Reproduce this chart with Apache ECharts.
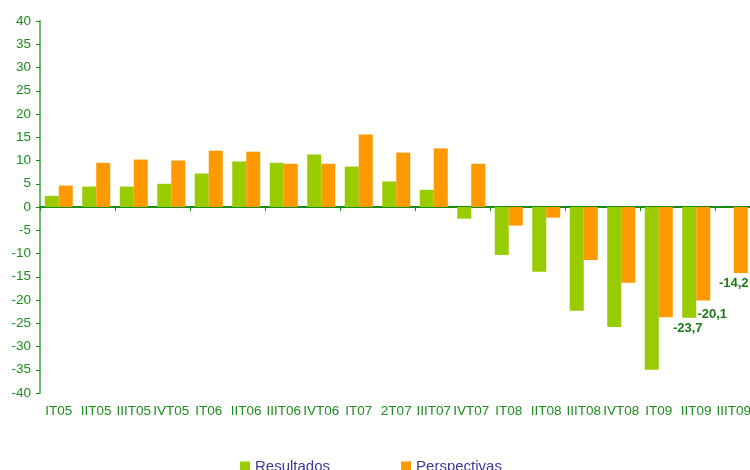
<!DOCTYPE html>
<html>
<head>
<meta charset="utf-8">
<script src="https://cdn.jsdelivr.net/npm/echarts@6/dist/echarts.min.js"></script>
<style>html,body{margin:0;padding:0;background:#fff}#c{width:750px;height:470px}</style>
</head>
<body>
<div id="c"></div>
<script>
var categories = ["IT05","IIT05","IIIT05","IVT05","IT06","IIT06","IIIT06","IVT06","IT07","2T07","IIIT07","IVT07","IT08","IIT08","IIIT08","IVT08","IT09","IIT09","IIIT09"];
var resultados = [2.4,4.4,4.4,5.0,7.2,9.8,9.5,11.3,8.7,5.5,3.7,-2.5,-10.3,-13.9,-22.3,-25.8,-35.0,-23.8,null];
var perspectivas = [4.6,9.5,10.2,10.0,12.1,11.9,9.3,9.3,15.6,11.7,12.6,9.3,-4.0,-2.3,-11.4,-16.3,-23.7,-20.1,-14.2];
var labelledIdx = [16,17,18];
var labelOffsets = [[22,0],[9,2],[-7,-1]];
var yTicks = {min:-40, max:40, interval:5};

var green = '#99cc00', orange = '#ff9900', txt = '#1e8c1e';

var perspData = perspectivas.map(function(v,i){
  var k = labelledIdx.indexOf(i);
  if (k < 0) return v;
  return {value:v, label:{show:true, position:'bottom', distance:5, offset:labelOffsets[k],
    formatter:function(p){return String(p.value).replace('.',',');},
    fontFamily:'Liberation Sans', fontWeight:'bold', fontSize:13, color:'#1a7a1a'}};
});

var chart = echarts.init(document.getElementById('c'), null, {renderer:'canvas'});
chart.setOption({
  animation:false,
  grid:{left:40, top:21, width:712.5, height:372, outerBoundsMode:'none', containLabel:false},
  legend:{
    data:['Resultados','Perspectivas'], left:235, top:454, itemWidth:10, itemHeight:10, itemGap:71,
    icon:'rect', textStyle:{fontFamily:'Liberation Sans', fontSize:15, color:'#3a3a9e'}
  },
  xAxis:[{
    type:'category', data:categories, position:'bottom',
    axisLine:{onZero:true, lineStyle:{color:'#178a17', width:2}},
    axisTick:{show:true, length:4, alignWithLabel:false, lineStyle:{color:'#178a17', width:1}},
    axisLabel:{show:false}, splitLine:{show:false}
  },{
    type:'category', data:categories, position:'bottom',
    axisLine:{show:false, onZero:false}, axisTick:{show:false},
    axisLabel:{show:true, interval:0, margin:11, fontFamily:'Liberation Sans', fontSize:13.5, color:txt},
    splitLine:{show:false}
  }],
  yAxis:{
    type:'value', min:yTicks.min, max:yTicks.max, interval:yTicks.interval,
    axisLine:{show:true, onZero:false, lineStyle:{color:'#6cbc6c', width:2}},
    axisTick:{show:true, length:4, lineStyle:{color:'#178a17'}},
    axisLabel:{fontFamily:'Liberation Sans', fontSize:13.5, color:txt, margin:9},
    splitLine:{show:false}
  },
  series:[
    {name:'Resultados', type:'bar', xAxisIndex:0, data:resultados, barWidth:14, barGap:'0%', itemStyle:{color:green}},
    {name:'Perspectivas', type:'bar', xAxisIndex:0, data:perspData, barWidth:14, barGap:'0%', itemStyle:{color:orange}}
  ]
});
</script>
</body>
</html>
